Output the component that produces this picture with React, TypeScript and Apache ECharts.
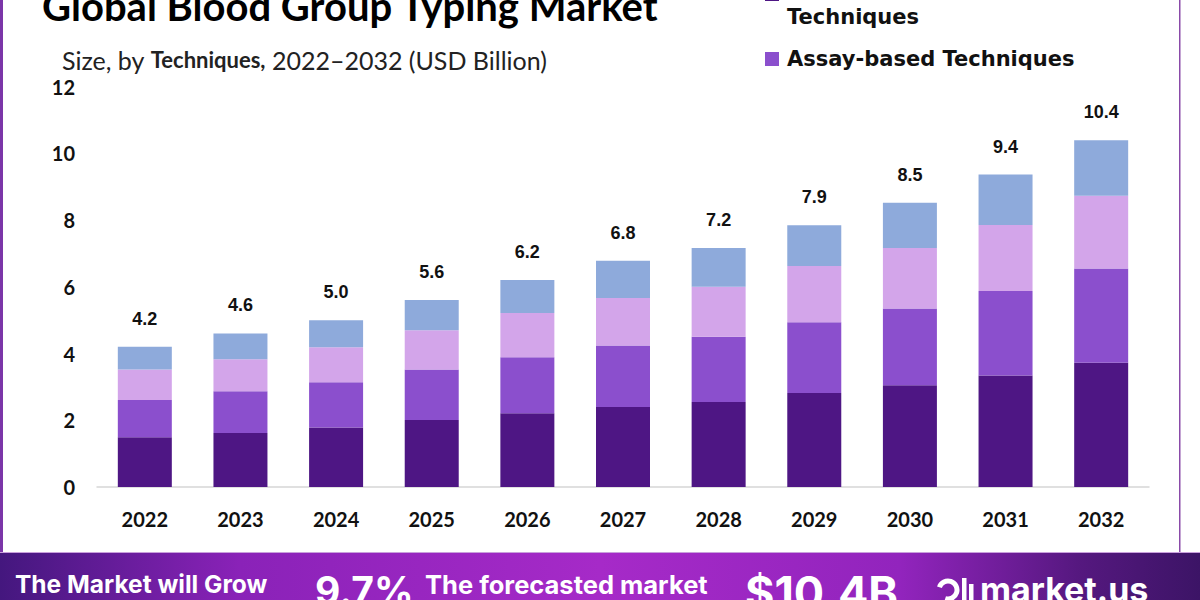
import React, { useEffect, useRef } from "react";
import * as echarts from "echarts";

const years = ["2022", "2023", "2024", "2025", "2026", "2027", "2028", "2029", "2030", "2031", "2032"];
const pcrMicroarray = [1.49, 1.62, 1.78, 2.01, 2.21, 2.4, 2.55, 2.82, 3.05, 3.34, 3.72];
const assayBased = [1.12, 1.25, 1.36, 1.51, 1.68, 1.84, 1.95, 2.12, 2.3, 2.53, 2.83];
const massivelyParallel = [0.91, 0.96, 1.05, 1.18, 1.32, 1.42, 1.5, 1.68, 1.81, 1.98, 2.18];
const otherTechniques = [0.68, 0.77, 0.81, 0.9, 0.99, 1.12, 1.16, 1.22, 1.36, 1.51, 1.66];
const totals = [4.2, 4.6, 5.0, 5.6, 6.2, 6.8, 7.2, 7.9, 8.5, 9.4, 10.4];
const yTicks = { min: 0, max: 12, interval: 2 };

const seriesNames = [
  "PCR-based and Microarray Techniques",
  "Assay-based Techniques",
  "Massively Parallel Sequencing Techniques",
  "Other Techniques",
];
const colors = ["#4e1684", "#8b4fcd", "#d3a5ea", "#8eaadb"];

export default function App() {
  const ref = useRef<HTMLDivElement>(null);
  useEffect(() => {
    if (!ref.current) return;
    const chart = echarts.init(ref.current, null, { renderer: "svg" });
    const data = [pcrMicroarray, assayBased, massivelyParallel, otherTechniques];
    const series: any[] = data.map((d, i) => ({
      name: seriesNames[i],
      type: "bar",
      stack: "total",
      barWidth: 54,
      data: d,
      itemStyle: { color: colors[i] },
      label:
        i === 3
          ? {
              show: true,
              position: "top",
              distance: 19,
              formatter: (p: any) => totals[p.dataIndex].toFixed(1),
              fontFamily: "Liberation Sans",
              fontWeight: "bold",
              fontSize: 18,
              color: "#111",
            }
          : { show: false },
    }));

    const bannerFont = "Inter";
    const legendFont = "DejaVu Sans";
    chart.setOption({
      animation: false,
      backgroundColor: "#ffffff",
      title: [
        {
          text: "Global Blood Group Typing Market",
          left: 37,
          top: -21,
          textStyle: { fontFamily: "Lato", fontWeight: "bold", fontSize: 40, color: "#000", lineHeight: 44 },
        },
        {
          text: "{a|Size, by }{b|Techniques,}{a| 2022–2032 (USD Billion)}",
          left: 57,
          top: 42,
          textStyle: {
            rich: {
              a: { fontFamily: "Lato", fontSize: 25, color: "#222", fontWeight: "normal" },
              b: { fontFamily: "Lato", fontSize: 22, color: "#222", fontWeight: "bold" },
            },
          },
        },
      ],
      grid: { left: 97, right: 51, top: 86.5, bottom: 113, containLabel: false },
      xAxis: {
        type: "category",
        data: years,
        axisLine: { lineStyle: { color: "#d6d6d6", width: 1.5 } },
        axisTick: { show: false },
        axisLabel: { margin: 22, fontFamily: "Lato", fontWeight: "bold", fontSize: 20, color: "#111" },
      },
      yAxis: {
        type: "value",
        min: yTicks.min,
        max: yTicks.max,
        interval: yTicks.interval,
        splitLine: { show: false },
        axisLine: { show: false },
        axisTick: { show: false },
        axisLabel: { margin: 22, fontFamily: "Lato", fontWeight: "bold", fontSize: 20, color: "#111" },
      },
      series,
      graphic: [
        // frame lines
        { type: "rect", shape: { x: 0, y: 0, width: 3, height: 553 }, style: { fill: "#7b35a8" }, silent: true },
        { type: "rect", shape: { x: 1179, y: 0, width: 1.5, height: 553 }, style: { fill: "#8a4aa8" }, silent: true },
        // legend (partially cut at the top)
        { type: "rect", shape: { x: 765, y: -13, width: 14, height: 14 }, style: { fill: colors[0] } },
        {
          type: "text",
          style: {
            text: "PCR-based and Microarray\nTechniques",
            x: 787,
            y: 3,
            fontFamily: legendFont,
            fontWeight: "bold",
            fontSize: 21,
            lineHeight: 28,
            fill: "#111",
            verticalAlign: "middle",
          },
        },
        { type: "rect", shape: { x: 765, y: 52, width: 14, height: 14 }, style: { fill: colors[1] } },
        {
          type: "text",
          style: {
            text: "Assay-based Techniques",
            x: 787,
            y: 59,
            fontFamily: legendFont,
            fontWeight: "bold",
            fontSize: 21,
            fill: "#111",
            verticalAlign: "middle",
          },
        },
        // bottom banner
        {
          type: "rect",
          shape: { x: 0, y: 553, width: 1200, height: 47 },
          style: {
            fill: new echarts.graphic.LinearGradient(0, 0, 1, 0, [
              { offset: 0, color: "#44177e" },
              { offset: 0.2, color: "#8a22b8" },
              { offset: 0.5, color: "#a62ac8" },
              { offset: 0.75, color: "#9224bd" },
              { offset: 0.9, color: "#55187f" },
              { offset: 1, color: "#3c1466" },
            ]),
          },
          silent: true,
        },
        { type: "rect", shape: { x: 0, y: 552, width: 1200, height: 1 }, style: { fill: "#c9a0dc" }, silent: true },
        {
          type: "text",
          style: { text: "The Market will Grow", x: 15, y: 584, fontFamily: bannerFont, fontWeight: "bold", fontSize: 24.5, fill: "#fff", verticalAlign: "middle" },
        },
        {
          type: "text",
          style: { text: "9.7%", x: 315, y: 590, fontFamily: bannerFont, fontWeight: "bold", fontSize: 39, fill: "#fff", verticalAlign: "middle" },
        },
        {
          type: "text",
          style: { text: "The forecasted market", x: 425, y: 584, fontFamily: bannerFont, fontWeight: "bold", fontSize: 25.5, fill: "#fff", verticalAlign: "middle" },
        },
        {
          type: "text",
          style: { text: "$10.4B", x: 745, y: 592, fontFamily: bannerFont, fontWeight: "bold", fontSize: 45, fill: "#fff", verticalAlign: "middle" },
        },
        { type: "arc", shape: { cx: 948, cy: 590, r: 9, startAngle: -Math.PI * 0.9, endAngle: Math.PI * 0.6 }, style: { stroke: "#fff", lineWidth: 5, fill: "none" } },
        { type: "rect", shape: { x: 962, y: 578, width: 4.5, height: 22 }, style: { fill: "#fff" } },
        { type: "rect", shape: { x: 969, y: 584, width: 4.5, height: 16 }, style: { fill: "#fff" } },
        {
          type: "text",
          style: { text: "market.us", x: 980, y: 589, fontFamily: bannerFont, fontWeight: "bold", fontSize: 34, fill: "#fff", verticalAlign: "middle" },
        },
      ],
    });
    return () => chart.dispose();
  }, []);
  return <div ref={ref} style={{ position: "fixed", left: 0, top: 0, width: 1200, height: 600 }} />;
}
